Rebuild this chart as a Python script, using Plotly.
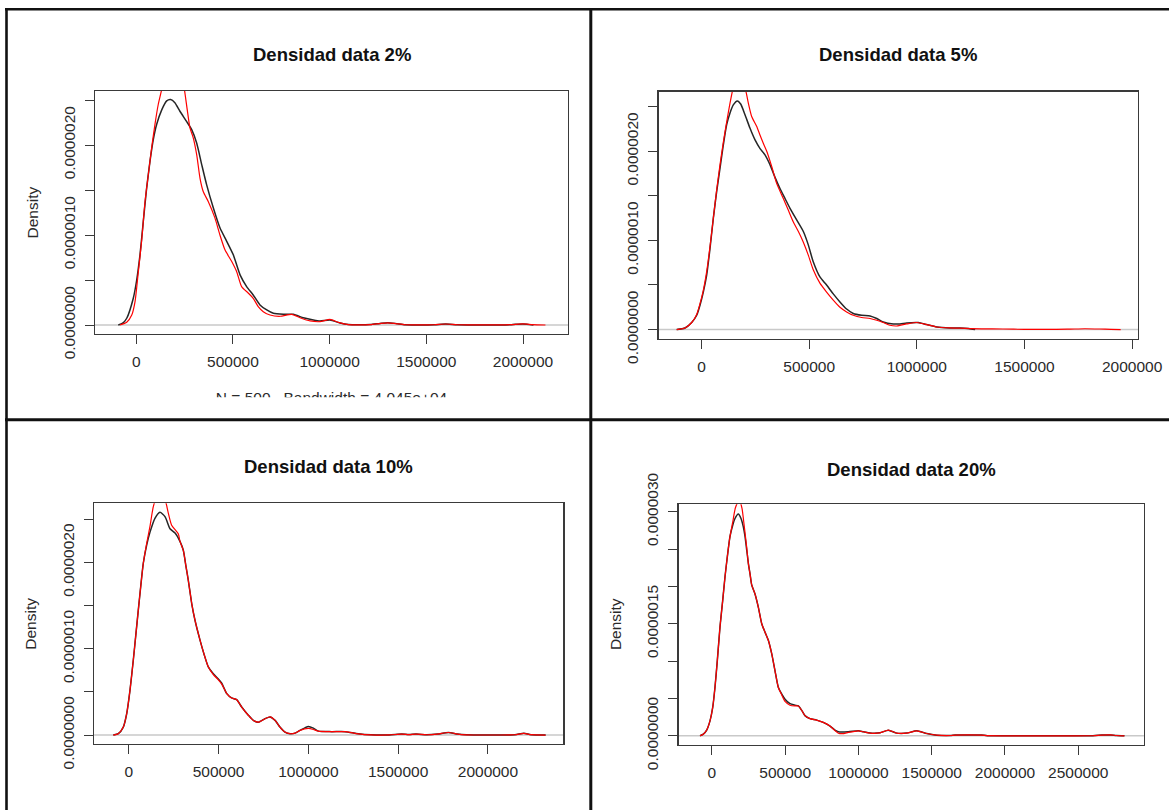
import plotly.graph_objects as go

W, H = 1169, 810
FONT = "Liberation Sans, Arial, sans-serif"

# ---------------- data (density values) ----------------
titles = ["Densidad data 2%", "Densidad data 5%", "Densidad data 10%", "Densidad data 20%"]
subtitle_p1 = "N = 500   Bandwidth = 4.045e+04"

# Panel 1 (2%)
p1_black_x = [-92600, -70000, -49000, -15000, 2600, 19600, 36700, 54000, 71400, 88400, 106000, 132000,
              157700, 178000, 200000, 226000, 261000, 287000, 313000, 339000, 364000, 399000, 433000,
              468000, 502000, 537000, 571000, 605000, 640000, 675000, 709000, 761000, 812000, 864000,
              916000, 950000, 1002000, 1054000, 1097000, 1150000, 1210000, 1260000, 1300000, 1340000,
              1390000, 1450000, 1540000, 1600000, 1660000, 1750000, 1880000, 1940000, 2000000, 2054000]
p1_black_y = [0, 0.02, 0.075, 0.297, 0.50, 0.78, 1.15, 1.52, 1.82, 2.06, 2.23, 2.39,
              2.49, 2.505, 2.47, 2.375, 2.26, 2.17, 2.02, 1.78, 1.56, 1.30, 1.08,
              0.93, 0.78, 0.557, 0.427, 0.334, 0.223, 0.167, 0.13, 0.119, 0.119, 0.081,
              0.056, 0.045, 0.056, 0.022, 0.005, 0.002, 0.005, 0.018, 0.026, 0.018,
              0.003, 0.001, 0.003, 0.011, 0.003, 0.001, 0.001, 0.004, 0.012, 0.0]
p1_red_x = [-84000, -49000, -23000, -6000, 11000, 28000, 45500, 62600, 80000, 97000, 114000, 132000,
            160000, 190000, 220000, 249000, 264000, 278000, 295000, 313000, 330000, 347000, 373000,
            407000, 433000, 459000, 494000, 520000, 545000, 580000, 605000, 631000, 657000, 692000,
            744000, 804000, 847000, 899000, 950000, 1002000, 1045000, 1097000, 1150000, 1210000,
            1260000, 1300000, 1340000, 1390000, 1450000, 1540000, 1600000, 1660000, 1750000, 1880000,
            1940000, 2000000, 2050000, 2116000]
p1_red_y = [0, 0.03, 0.11, 0.26, 0.59, 0.93, 1.37, 1.67, 1.97, 2.23, 2.45, 2.62,
            2.95, 3.10, 2.95, 2.62, 2.39, 2.19, 2.08, 1.89, 1.63, 1.48, 1.37,
            1.19, 1.00, 0.835, 0.705, 0.59, 0.427, 0.353, 0.297, 0.204, 0.148, 0.111,
            0.097, 0.119, 0.081, 0.045, 0.037, 0.063, 0.03, 0.004, 0.001, 0.004,
            0.016, 0.024, 0.016, 0.003, 0.001, 0.003, 0.011, 0.003, 0.001, 0.001,
            0.004, 0.012, 0.004, 0.0]

# Panel 2 (5%)
p2_black_x = [-115200, -76600, -45500, -22300, -7000, 8400, 24000, 39500, 55000, 70600, 86000, 101300,
              117000, 132400, 147700, 166300, 182000, 202000, 225000, 248000, 272000, 295000, 318000,
              341000, 365000, 388000, 411000, 442000, 473000, 496000, 519000, 550000, 581000, 612000,
              643000, 674000, 705000, 744000, 783000, 814000, 844000, 891000, 922000, 953000, 1007000,
              1046000, 1093000, 1154000, 1200000, 1240000, 1271000]
p2_black_y = [0, 0.018, 0.079, 0.16, 0.273, 0.42, 0.61, 0.91, 1.25, 1.55, 1.81, 2.07,
              2.30, 2.43, 2.52, 2.565, 2.53, 2.41, 2.26, 2.13, 2.03, 1.96, 1.85,
              1.71, 1.58, 1.47, 1.36, 1.23, 1.10, 0.95, 0.76, 0.59, 0.50, 0.40,
              0.31, 0.23, 0.18, 0.16, 0.153, 0.124, 0.085, 0.063, 0.063, 0.074, 0.079,
              0.056, 0.029, 0.018, 0.018, 0.012, 0.0]
p2_red_x = [-115200, -76600, -45500, -22300, -7000, 8400, 24000, 39500, 55000, 70600, 86000, 101300,
            117000, 132400, 143000, 158000, 175000, 192000, 206700, 217500, 233000, 256000, 272000,
            287000, 303000, 326000, 349000, 380000, 403000, 426000, 450000, 473000, 496000, 519000,
            550000, 581000, 612000, 643000, 674000, 705000, 744000, 783000, 814000, 844000, 875000,
            907000, 953000, 1000000, 1046000, 1093000, 1154000, 1200000, 1300000, 1400000, 1500000,
            1600000, 1700000, 1780000, 1850000, 1900000, 1947000]
p2_red_y = [0, 0.018, 0.079, 0.17, 0.29, 0.44, 0.65, 0.93, 1.25, 1.57, 1.85, 2.10,
            2.33, 2.54, 2.67, 2.85, 2.92, 2.82, 2.67, 2.54, 2.39, 2.28, 2.18,
            2.09, 2.0, 1.83, 1.64, 1.47, 1.34, 1.21, 1.10, 0.98, 0.835, 0.67,
            0.52, 0.42, 0.33, 0.25, 0.198, 0.16, 0.135, 0.124, 0.104, 0.079, 0.048,
            0.040, 0.063, 0.079, 0.056, 0.029, 0.018, 0.015, 0.008, 0.006, 0.002,
            0.002, 0.004, 0.009, 0.006, 0.002, 0.0]

# Panel 3 (10%)
p3_black_x = [-85700, -57900, -30000, -11000, 7200, 25600, 40600, 53500, 66800, 81300, 100000, 118600,
              146000, 174000, 202000, 230000, 258000, 286000, 304000, 319000, 332000, 351000, 369000,
              397000, 419000, 443000, 471000, 499000, 518000, 546000, 573000, 601000, 629000, 666000,
              694000, 722000, 759000, 787000, 815000, 842000, 870000, 898000, 926000, 954000, 1000000,
              1028000, 1056000, 1130000, 1204000, 1278000, 1350000, 1450000, 1520000, 1560000, 1600000,
              1660000, 1720000, 1780000, 1830000, 1880000, 1950000, 2050000, 2150000, 2200000, 2240000,
              2321000]
p3_black_y = [0, 0.016, 0.093, 0.25, 0.52, 0.87, 1.18, 1.45, 1.72, 1.99, 2.20, 2.35,
              2.51, 2.58, 2.53, 2.39, 2.34, 2.24, 2.14, 1.95, 1.79, 1.52, 1.33,
              1.10, 0.94, 0.79, 0.71, 0.65, 0.60, 0.48, 0.43, 0.41, 0.325, 0.23,
              0.17, 0.15, 0.19, 0.21, 0.17, 0.093, 0.035, 0.016, 0.023, 0.055, 0.10,
              0.081, 0.046, 0.04, 0.04, 0.015, 0.003, 0.002, 0.012, 0.006, 0.012,
              0.004, 0.012, 0.03, 0.012, 0.003, 0.001, 0.001, 0.004, 0.02, 0.005,
              0.0]
p3_red_x = [-85700, -57900, -30000, -11000, 7200, 25600, 40600, 53500, 66800, 81300, 100000, 118600,
            137000, 160000, 182000, 206000, 220500, 239000, 276000, 286000, 304000, 319000, 332000,
            351000, 369000, 397000, 419000, 443000, 471000, 499000, 518000, 546000, 573000, 601000,
            629000, 666000, 694000, 722000, 759000, 787000, 815000, 842000, 870000, 898000, 926000,
            954000, 1000000, 1028000, 1056000, 1130000, 1204000, 1278000, 1350000, 1450000, 1520000,
            1560000, 1600000, 1660000, 1720000, 1780000, 1830000, 1880000, 1950000, 2050000, 2150000,
            2200000, 2240000, 2321000]
p3_red_y = [0, 0.016, 0.093, 0.25, 0.52, 0.87, 1.18, 1.45, 1.72, 1.99, 2.22, 2.42,
            2.645, 2.78, 2.80, 2.70, 2.57, 2.43, 2.33, 2.24, 2.14, 1.95, 1.79,
            1.52, 1.33, 1.10, 0.94, 0.79, 0.70, 0.64, 0.59, 0.48, 0.43, 0.41,
            0.325, 0.23, 0.17, 0.15, 0.19, 0.21, 0.17, 0.093, 0.035, 0.016, 0.023,
            0.055, 0.077, 0.065, 0.046, 0.04, 0.04, 0.015, 0.003, 0.002, 0.012,
            0.006, 0.012, 0.004, 0.012, 0.03, 0.012, 0.003, 0.001, 0.001, 0.004,
            0.02, 0.005, 0.0]

# Panel 4 (20%)
p4_black_x = [-81200, -58700, -35500, -13000, 5500, 21000, 37000, 55300, 73500, 89400, 105300, 123500,
              142000, 157600, 180000, 198600, 214000, 225900, 237500, 248700, 260000, 271600, 294000,
              317000, 340000, 362000, 385000, 408000, 430700, 453000, 476000, 499000, 533000, 567000,
              590000, 613000, 635000, 669500, 715000, 760000, 806000, 840000, 863000, 931000, 999000,
              1033000, 1080000, 1147000, 1204000, 1261000, 1329000, 1398000, 1466000, 1534000, 1625000,
              1660000, 1750000, 1840000, 1880000, 2000000, 2300000, 2600000, 2660000, 2720000, 2760000,
              2815000]
p4_black_y = [0, 0.022, 0.077, 0.20, 0.38, 0.65, 1.01, 1.46, 1.81, 2.13, 2.40, 2.67,
              2.82, 2.91, 2.97, 2.91, 2.80, 2.67, 2.49, 2.31, 2.17, 2.02, 1.90,
              1.72, 1.50, 1.39, 1.28, 1.10, 0.87, 0.65, 0.56, 0.49, 0.43, 0.41,
              0.40, 0.34, 0.27, 0.23, 0.21, 0.18, 0.13, 0.076, 0.054, 0.054, 0.067,
              0.054, 0.036, 0.04, 0.076, 0.036, 0.036, 0.067, 0.031, 0.009, 0.004,
              0.01, 0.012, 0.01, 0.002, 0.0, 0.0, 0.001, 0.01, 0.012, 0.004,
              0.0]
p4_red_x = [-81200, -58700, -35500, -13000, 5500, 21000, 37000, 55300, 73500, 89400, 105300, 123500,
            142000, 160000, 186000, 205000, 214000, 225900, 237500, 248700, 260000, 271600, 294000,
            317000, 340000, 362000, 385000, 408000, 430700, 453000, 476000, 499000, 533000, 567000,
            590000, 613000, 635000, 669500, 715000, 760000, 806000, 840000, 863000, 900000, 931000,
            999000, 1033000, 1080000, 1147000, 1204000, 1261000, 1329000, 1398000, 1466000, 1534000,
            1625000, 1660000, 1750000, 1840000, 1880000, 2000000, 2300000, 2600000, 2660000, 2720000,
            2760000, 2815000]
p4_red_y = [0, 0.022, 0.077, 0.20, 0.38, 0.65, 1.01, 1.46, 1.81, 2.13, 2.40, 2.67,
            2.86, 3.05, 3.16, 3.05, 2.92, 2.72, 2.52, 2.31, 2.17, 2.02, 1.90,
            1.72, 1.50, 1.39, 1.28, 1.10, 0.87, 0.65, 0.55, 0.46, 0.41, 0.40,
            0.40, 0.34, 0.27, 0.23, 0.21, 0.18, 0.13, 0.07, 0.035, 0.03, 0.045,
            0.067, 0.054, 0.036, 0.04, 0.076, 0.036, 0.036, 0.067, 0.031, 0.009,
            0.004, 0.01, 0.012, 0.01, 0.002, 0.0, 0.0, 0.001, 0.01, 0.012,
            0.004, 0.0]

x_tick_vals_a = [0, 500000, 1000000, 1500000, 2000000]
x_tick_vals_b = [0, 500000, 1000000, 1500000, 2000000, 2500000]
y_tick_vals_a = [0, 0.5e-6, 1.0e-6, 1.5e-6, 2.0e-6, 2.5e-6]
y_tick_text_a = ["0.0000000", "", "0.0000010", "", "0.0000020", ""]
y_tick_vals_b = [0, 0.5e-6, 1.0e-6, 1.5e-6, 2.0e-6, 2.5e-6, 3.0e-6]
y_tick_text_b = ["0.0000000", "", "", "0.0000015", "", "", "0.0000030"]

DENS_SCALE = 1e-6  # y lists above are in units of 1e-6

# ---------------- layout geometry (pixels) ----------------
panels = [
    dict(bx=(95, 568), by=(91, 334), xr=(-213000, 2232600), yr=(-1.0e-7, 2.6e-6),
         bx_data=(p1_black_x, p1_black_y), r_data=(p1_red_x, p1_red_y),
         xt=x_tick_vals_a, yt=(y_tick_vals_a, y_tick_text_a), title_y=55, dens=True),
    dict(bx=(658.7, 1138), by=(91.7, 338.7), xr=(-198800, 2027400), yr=(-1.026e-7, 2.668e-6),
         bx_data=(p2_black_x, p2_black_y), r_data=(p2_red_x, p2_red_y),
         xt=x_tick_vals_a, yt=(y_tick_vals_a, y_tick_text_a), title_y=55, dens=False),
    dict(bx=(94.1, 563.2), by=(503.3, 744), xr=(-192700, 2419000), yr=(-1.032e-7, 2.684e-6),
         bx_data=(p3_black_x, p3_black_y), r_data=(p3_red_x, p3_red_y),
         xt=x_tick_vals_a, yt=(y_tick_vals_a, y_tick_text_a), title_y=466.7, dens=True),
    dict(bx=(678.6, 1143.9), by=(504.3, 744.7), xr=(-227300, 2948000), yr=(-1.19e-7, 3.10e-6),
         bx_data=(p4_black_x, p4_black_y), r_data=(p4_red_x, p4_red_y),
         xt=x_tick_vals_b, yt=(y_tick_vals_b, y_tick_text_b), title_y=469.5, dens=True),
]

def px(x):
    return x / W

def py(y):
    return 1 - y / H

fig = go.Figure()
layout = dict(
    template="none",
    width=W, height=H, margin=dict(l=0, r=0, t=0, b=0, pad=0, autoexpand=False),
    autosize=False,
    paper_bgcolor="white", plot_bgcolor="white", showlegend=False,
    font=dict(family=FONT, color="#222"),
)
shapes = []
annotations = []

for i, p in enumerate(panels):
    n = i + 1
    xa = "x" if n == 1 else f"x{n}"
    ya = "y" if n == 1 else f"y{n}"
    xkey = "xaxis" if n == 1 else f"xaxis{n}"
    ykey = "yaxis" if n == 1 else f"yaxis{n}"
    common = dict(showgrid=False, zeroline=False, showline=True, linecolor="#3a3a3a", linewidth=1.3,
                  mirror=True, ticks="outside", ticklen=9, tickwidth=1, tickcolor="#3a3a3a",
                  tickfont=dict(family=FONT, size=15.5, color="#2a2a2a"), fixedrange=True,
                  automargin=False, ticklabelstandoff=4)
    layout[xkey] = dict(common, domain=[px(p["bx"][0]), px(p["bx"][1])], range=list(p["xr"]),
                        anchor=ya, tickmode="array", tickvals=p["xt"],
                        ticktext=[str(v) for v in p["xt"]])
    layout[ykey] = dict(common, domain=[py(p["by"][1]), py(p["by"][0])], range=list(p["yr"]),
                        anchor=xa, tickmode="array", tickvals=p["yt"][0], ticktext=p["yt"][1],
                        tickangle=-90)
    # zero line (gray)
    shapes.append(dict(type="line", xref=f"{xa} domain", yref=ya, x0=0, x1=1, y0=0, y1=0,
                       line=dict(color="#c9c9c9", width=1.5), layer="below"))
    bxs, bys = p["bx_data"]
    rxs, rys = p["r_data"]
    fig.add_trace(go.Scatter(x=bxs, y=[v * DENS_SCALE for v in bys], mode="lines", xaxis=xa, yaxis=ya,
                             line=dict(color="#262626", width=1.5, shape="spline", smoothing=0.6),
                             hoverinfo="skip"))
    fig.add_trace(go.Scatter(x=rxs, y=[v * DENS_SCALE for v in rys], mode="lines", xaxis=xa, yaxis=ya,
                             line=dict(color="#ff0000", width=1.2, shape="spline", smoothing=0.6),
                             hoverinfo="skip"))
    cx = (p["bx"][0] + p["bx"][1]) / 2
    annotations.append(dict(text=f"<b>{titles[i]}</b>", xref="paper", yref="paper",
                            x=px(cx), y=py(p["title_y"]), xanchor="center", yanchor="middle",
                            showarrow=False, font=dict(family=FONT, size=18.5, color="#111")))
    if p["dens"]:
        cy = (p["by"][0] + p["by"][1]) / 2
        annotations.append(dict(text="Density", xref="paper", yref="paper",
                                x=px(p["bx"][0] - 63), y=py(cy), xanchor="center", yanchor="middle",
                                textangle=-90, showarrow=False,
                                font=dict(family=FONT, size=15.5, color="#2a2a2a")))

# clipped subtitle under panel 1 (only the top of the letters is visible)
layout["xaxis5"] = dict(domain=[0, px(663)], range=[0, 1], visible=False, fixedrange=True,
                        anchor="y5", automargin=False)
layout["yaxis5"] = dict(domain=[py(397.3), py(375)], range=[0, 1], visible=False, fixedrange=True,
                        anchor="x5", automargin=False)
fig.add_trace(go.Scatter(x=[0.5], y=[-0.07], mode="text", text=[subtitle_p1], xaxis="x5", yaxis="y5",
                         textposition="middle center", cliponaxis=True,
                         textfont=dict(family=FONT, size=15.5, color="#2a2a2a"), hoverinfo="skip"))

# image frame / dividers
frame_col = "#111111"
shapes += [
    dict(type="line", xref="paper", yref="paper", x0=px(5), x1=1, y0=py(9.2), y1=py(9.2),
         line=dict(color=frame_col, width=2.6)),
    dict(type="line", xref="paper", yref="paper", x0=px(6.5), x1=px(6.5), y0=py(8), y1=0,
         line=dict(color=frame_col, width=2.6)),
    dict(type="line", xref="paper", yref="paper", x0=px(590.8), x1=px(590.8), y0=py(8), y1=0,
         line=dict(color=frame_col, width=3)),
    dict(type="line", xref="paper", yref="paper", x0=px(5), x1=1, y0=py(419.8), y1=py(419.8),
         line=dict(color=frame_col, width=3)),
]
layout["shapes"] = shapes
layout["annotations"] = annotations
fig.update_layout(**layout)

fig.write_html("out.html", config={"displayModeBar": False, "staticPlot": True},
               post_script="document.body.style.margin='0px';document.body.style.overflow='hidden';")
